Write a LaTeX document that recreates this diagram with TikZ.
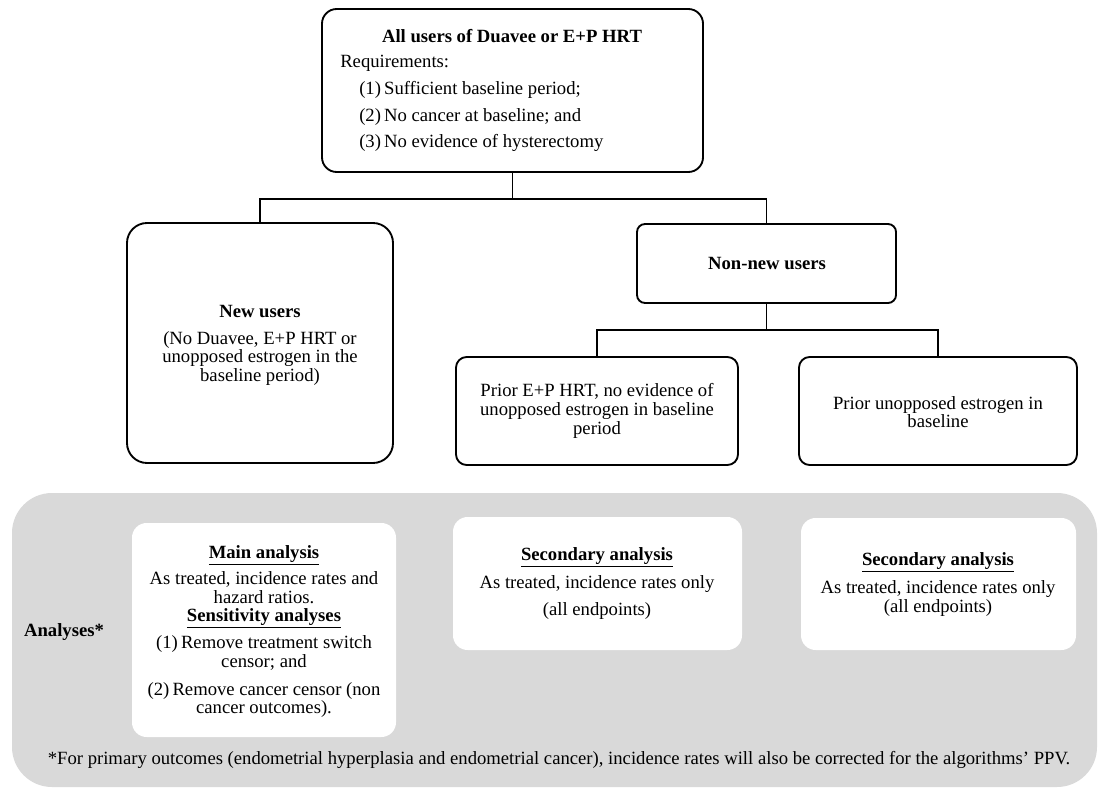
\documentclass[tikz,border=0pt]{standalone}
\usepackage{fontspec}
\setmainfont{Liberation Serif}
\usetikzlibrary{fit}
\definecolor{bggray}{HTML}{D9D9D9}
\begin{document}
\begin{tikzpicture}[x=0.75pt,y=-0.75pt,
  box/.style={draw=black, line width=1.4pt, fill=white, inner sep=0pt},
  whitebox/.style={draw=none, fill=white, rounded corners=11pt, inner sep=0pt},
  graybg/.style={draw=none, fill=bggray, rounded corners=30pt, inner sep=0pt},
  conn/.style={draw=black, line width=1.4pt},
  txt/.style={font=\fontsize{14}{14}\selectfont, align=center, inner sep=0pt}]
\useasboundingbox (0,0) rectangle (1099,788);

% background region and analysis boxes
\node[graybg, fit={(12,493) (1097,787)}] (analysesbg) {};
\node[whitebox, fit={(132,523) (396,737)}] (mainbox) {};
\node[whitebox, fit={(453,517) (742,650)}] (sec1) {};
\node[whitebox, fit={(801,518) (1076,650)}] (sec2) {};

% flow boxes
\node[box, rounded corners=11pt, fit={(322,9) (703,172)}] (top) {};
\node[box, rounded corners=15pt, fit={(127,223) (393,463)}] (new) {};
\node[box, rounded corners=6pt, fit={(637,224) (896,303)}] (nonnew) {};
\node[box, rounded corners=8pt, fit={(456,357) (738,465)}] (priorep) {};
\node[box, rounded corners=8pt, fit={(799,357) (1077,465)}] (priorue) {};

% connectors
\coordinate (j1) at (512.5,199);
\coordinate (j2) at (766.5,330);
\draw[conn] (top.south) -- (j1) -| (new.north);
\draw[conn] (j1) -| (nonnew.north);
\draw[conn] (nonnew.south) -- (j2) -| (priorep.north);
\draw[conn] (j2) -| (priorue.north);

% top box text
\node[txt] (toptitle) at (512,36) {\textbf{All users of Duavee or E+P HRT}};
\node[txt, anchor=west] (req) at (340,63) {Requirements:};
\node[txt, anchor=west] (req1) at (359,90) {(1)\,Sufficient baseline period;};
\node[txt, anchor=west] (req2) at (359,117) {(2)\,No cancer at baseline; and};
\node[txt, anchor=west] (req3) at (359,143) {(3)\,No evidence of hysterectomy};

% new users
\node[txt] (newtitle) at (260,312) {\textbf{New users}};
\node[txt] (newbody) at (260,358.5) {(No Duavee, E+P HRT or\\unopposed estrogen in the\\baseline period)};

% non-new users
\node[txt] (nonnewtitle) at (767,264) {\textbf{Non-new users}};
\node[txt] (prioreptext) at (597,411) {Prior E+P HRT, no evidence of\\unopposed estrogen in baseline\\period};
\node[txt] (priouetext) at (938,412) {Prior unopposed estrogen in\\baseline};

% analyses
\node[txt] (analyseslabel) at (64,632) {\textbf{Analyses*}};

\node[txt] (mainhead) at (264,555) {\underline{\textbf{Main analysis}}};
\node[txt] (mainbody) at (264,587.5) {As treated, incidence rates and\\hazard ratios.};
\node[txt] (senshead) at (264,618) {\underline{\textbf{Sensitivity analyses}}};
\node[txt] (sens1) at (264,653) {(1)\,Remove treatment switch\\censor; and};
\node[txt] (sens2) at (264,700) {(2)\,Remove cancer censor (non\\cancer outcomes).};

\node[txt] (sec1head) at (597,557) {\underline{\textbf{Secondary analysis}}};
\node[txt] (sec1body) at (597,584) {As treated, incidence rates only};
\node[txt] (sec1end) at (597,611) {(all endpoints)};

\node[txt] (sec2head) at (938,562) {\underline{\textbf{Secondary analysis}}};
\node[txt] (sec2body) at (938,598.5) {As treated, incidence rates only\\(all endpoints)};

\node[txt] (footnote) at (559,760) {*For primary outcomes (endometrial hyperplasia and endometrial cancer), incidence rates will also be corrected for the algorithms’ PPV.};
\end{tikzpicture}
\end{document}
